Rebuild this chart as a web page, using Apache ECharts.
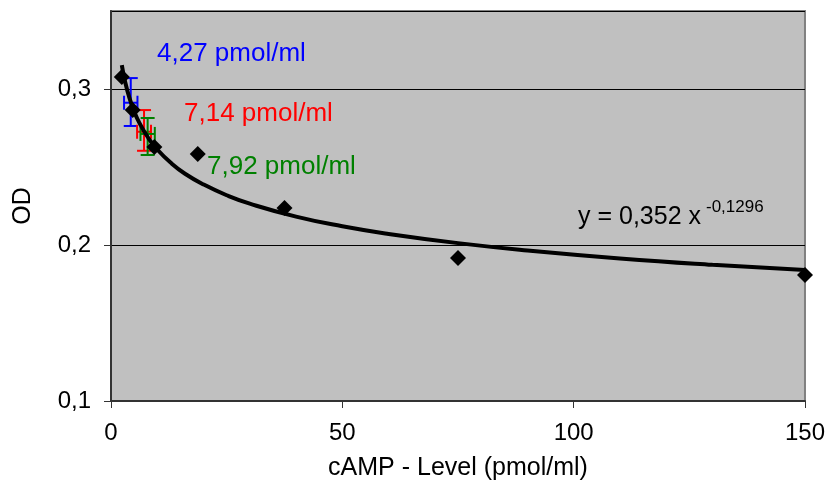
<!DOCTYPE html>
<html>
<head>
<meta charset="utf-8">
<script src="https://cdn.jsdelivr.net/npm/echarts@6/dist/echarts.min.js"></script>
<style>
  html, body { margin: 0; padding: 0; background: #fff; }
  #main { width: 828px; height: 486px; }
</style>
</head>
<body>
<div id="main"></div>
<script>
// standard dilution series (pmol/ml) and measured OD
var stdX = [2.34, 4.69, 9.375, 18.75, 37.5, 75, 150];
var stdY = [0.3077, 0.2865, 0.2628, 0.2583, 0.2237, 0.1917, 0.1808];

// power trend line
var trendX = [2.34, 3, 4, 5, 6, 8, 10, 13, 16, 20, 25, 30, 40, 50, 60, 75, 90, 110, 130, 150];
var trendY = [0.3153, 0.3053, 0.2941, 0.2857, 0.2791, 0.2689, 0.2612, 0.2525, 0.2457, 0.2388,
              0.2319, 0.2265, 0.2182, 0.2120, 0.2071, 0.2012, 0.1965, 0.1914, 0.1873, 0.1839];

// samples with error bars
var sampleNames = ['4,27 pmol/ml', '7,14 pmol/ml', '7,92 pmol/ml'];
var sampleColors = ['#0000ff', '#ff0000', '#008000'];
var sampleX = [4.27, 7.14, 7.92];
var sampleY = [0.2912, 0.2726, 0.2712];
var sampleYLow = [0.2763, 0.2604, 0.2577];
var sampleYHigh = [0.3070, 0.2865, 0.2814];
var sampleXErr = [1.45, 1.5, 1.55];

var xTicks = [0, 50, 100, 150];
var yTicks = [0.1, 0.2, 0.3];

var FONT = '"Liberation Sans", Arial, sans-serif';

var myChart = echarts.init(document.getElementById('main'));

var stdData = [];
for (var i = 0; i < stdX.length; i++) stdData.push([stdX[i], stdY[i]]);
var trendData = [];
for (var i = 0; i < trendX.length; i++) trendData.push([trendX[i], trendY[i]]);
var errData = [];
for (var i = 0; i < sampleX.length; i++) {
    errData.push({
        value: [sampleX[i], sampleY[i], sampleYLow[i], sampleYHigh[i], sampleXErr[i]],
        itemStyle: { color: sampleColors[i] }
    });
}

function renderErr(params, api) {
    var x = api.value(0), y = api.value(1);
    var lo = api.coord([x, api.value(2)]);
    var hi = api.coord([x, api.value(3)]);
    var left = api.coord([x - api.value(4), y]);
    var right = api.coord([x + api.value(4), y]);
    var cap = 7;
    var style = { stroke: sampleColors[params.dataIndex], lineWidth: 2 };
    function line(x1, y1, x2, y2) {
        return { type: 'line', shape: { x1: x1, y1: y1, x2: x2, y2: y2 }, style: style };
    }
    return {
        type: 'group',
        children: [
            line(hi[0], hi[1], lo[0], lo[1]),
            line(hi[0] - cap, hi[1], hi[0] + cap, hi[1]),
            line(lo[0] - cap, lo[1], lo[0] + cap, lo[1]),
            line(left[0], left[1], right[0], right[1]),
            line(left[0], left[1] - cap, left[0], left[1] + cap),
            line(right[0], right[1] - cap, right[0], right[1] + cap)
        ]
    };
}

var option = {
    backgroundColor: '#ffffff',
    animation: false,
    textStyle: { fontFamily: FONT },
    grid: {
        left: 111, right: 23, top: 11, bottom: 85,
        show: true,
        backgroundColor: '#c0c0c0',
        borderColor: '#808080',
        borderWidth: 2
    },
    xAxis: {
        type: 'value',
        min: 0, max: 150, interval: 50,
        name: 'cAMP - Level (pmol/ml)',
        nameLocation: 'middle',
        nameGap: 55,
        nameTextStyle: { fontSize: 25, color: '#000', fontFamily: FONT },
        axisLine: { lineStyle: { color: '#333333', width: 2 } },
        axisTick: { inside: false, length: 7, lineStyle: { color: '#333333', width: 1 } },
        axisLabel: { fontSize: 24, color: '#000', margin: 20, fontFamily: FONT },
        splitLine: { show: false }
    },
    yAxis: {
        type: 'value',
        min: 0.1, max: 0.35, interval: 0.1,
        name: 'OD',
        nameLocation: 'middle',
        nameGap: 75,
        nameTextStyle: { fontSize: 25, color: '#000', fontFamily: FONT },
        axisLine: { show: true, lineStyle: { color: '#333333', width: 2 } },
        axisTick: { show: true, inside: false, length: 7, lineStyle: { color: '#333333', width: 1 } },
        axisLabel: {
            fontSize: 24, color: '#000', margin: 20, fontFamily: FONT,
            showMaxLabel: false,
            formatter: function (v) {
                return yTicks.indexOf(Math.round(v * 10) / 10) >= 0 && Math.abs(v * 10 - Math.round(v * 10)) < 1e-6
                    ? v.toFixed(1).replace('.', ',') : '';
            }
        },
        splitLine: { show: true, lineStyle: { color: '#000000', width: 1 } }
    },
    series: [{
        name: 'trend',
        type: 'line',
        data: trendData,
        smooth: true,
        showSymbol: false,
        lineStyle: { color: '#000', width: 4 },
        z: 3
    }, {
        name: 'errors',
        type: 'custom',
        renderItem: renderErr,
        data: errData,
        z: 2
    }, {
        name: 'standards',
        type: 'scatter',
        data: stdData,
        symbol: 'diamond',
        symbolSize: 16,
        itemStyle: { color: '#000', opacity: 1 },
        z: 4
    }],
    graphic: [
        { type: 'text', left: 157, top: 41, style: { text: sampleNames[0], fill: sampleColors[0], font: '26px ' + FONT } },
        { type: 'text', left: 184, top: 101, style: { text: sampleNames[1], fill: sampleColors[1], font: '26px ' + FONT } },
        { type: 'text', left: 207, top: 154, style: { text: sampleNames[2], fill: sampleColors[2], font: '26px ' + FONT } },
        { type: 'text', left: 578, top: 205, style: { text: 'y = 0,352 x', fill: '#000', font: '25px ' + FONT } },
        { type: 'text', left: 706, top: 199, style: { text: '-0,1296', fill: '#000', font: '17px ' + FONT } }
    ]
};

myChart.setOption(option);
</script>
</body>
</html>
